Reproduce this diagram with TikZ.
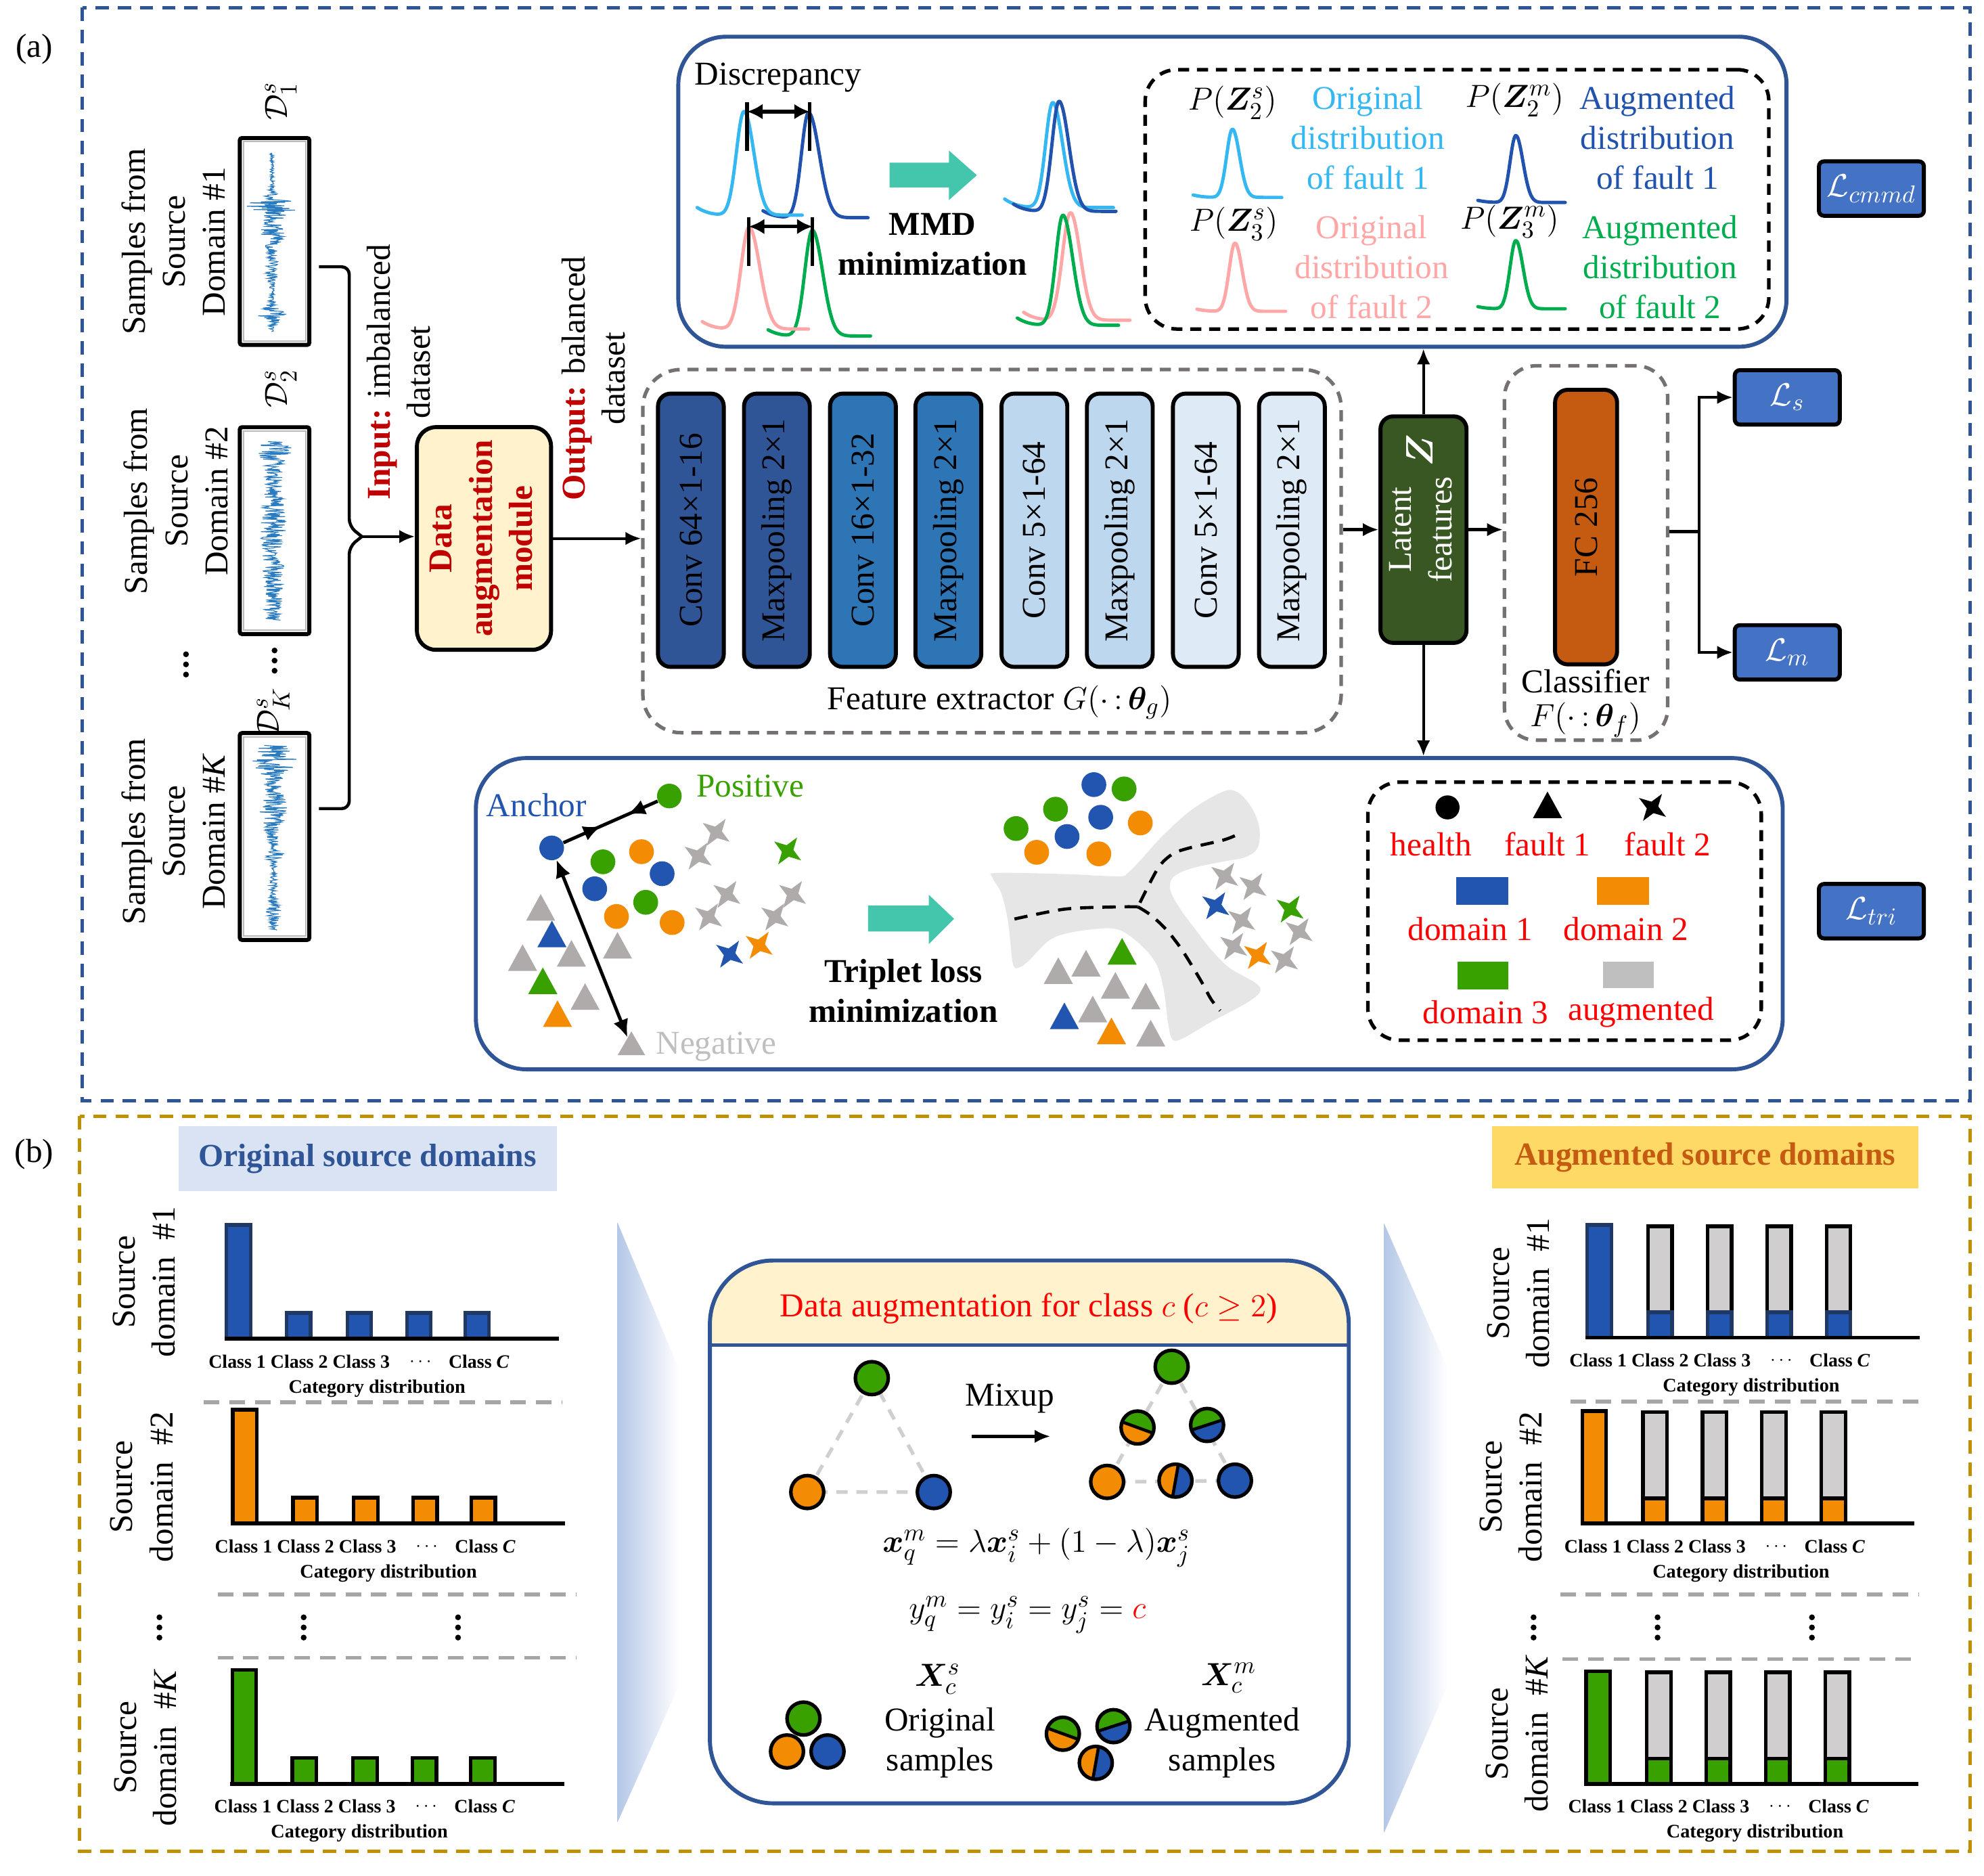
\documentclass[tikz,border=0pt]{standalone}
\usepackage{fontspec}
\setmainfont{Liberation Serif}
\usepackage{amsmath,amssymb,bm,graphicx}
\usetikzlibrary{arrows.meta,shapes.geometric,decorations.markings,calc}

\definecolor{frameblue}{HTML}{2F5597}
\definecolor{framegold}{HTML}{BF9000}
\definecolor{darkred}{HTML}{C00000}
\definecolor{cream}{HTML}{FFF2CC}
\definecolor{lossblue}{HTML}{4472C4}
\definecolor{latgreen}{HTML}{385723}
\definecolor{fcorange}{HTML}{C55A11}
\definecolor{layA}{HTML}{2F5597}
\definecolor{layB}{HTML}{2E75B6}
\definecolor{layC}{HTML}{BDD7EE}
\definecolor{layD}{HTML}{DEEBF7}
\definecolor{cblue}{HTML}{2255AF}
\definecolor{cgreen}{HTML}{38A100}
\definecolor{corange}{HTML}{F38B03}
\definecolor{cgray}{HTML}{AFABAB}
\definecolor{blobgray}{HTML}{E6E6E6}
\definecolor{tealarrow}{HTML}{43C6AC}
\definecolor{lblue}{HTML}{35B8F2}
\definecolor{dblue}{HTML}{2153AE}
\definecolor{pinkc}{HTML}{FFA6A6}
\definecolor{greenc}{HTML}{00AD4E}
\definecolor{sigblue}{HTML}{2A7BC0}
\definecolor{titleblue}{HTML}{DAE3F3}
\definecolor{titlegold}{HTML}{FFD966}
\definecolor{barnavy}{HTML}{203864}
\definecolor{augray}{HTML}{D0CECE}
\definecolor{sepgray}{HTML}{A6A6A6}
\definecolor{wedgeblue}{HTML}{B4C7E7}
\definecolor{fegray}{HTML}{767171}
\definecolor{leggray}{HTML}{BFBFBF}
\definecolor{augtext}{HTML}{C55A11}

% bell curve: color, cx, base, h, sl, sr, xl, xr
\newcommand{\bellc}[8]{\draw[#1,line width=1.5pt,line cap=round,line join=round] plot[smooth,domain=#7:#8,samples=70] ({#2+\x},{#3-#4*bell(\x,ifthenelse(\x<0,#5,#6))-0.1*#4*tl(\x)});}
\newcommand{\dotc}[3]{\fill[#3] (#1,#2) circle (9.8);}
\newcommand{\tric}[3]{\fill[#3] (#1,{#2-10.5}) -- ({#1+11.5},{#2+10.5}) -- ({#1-11.5},{#2+10.5}) -- cycle;}
\newcommand{\starc}[3]{\fill[#3,shift={(#1,#2)}] (35:13) -- (80:4.6) -- (125:13) -- (170:4.6) -- (215:13) -- (260:4.6) -- (305:13) -- (350:4.6) -- cycle;}
\newcommand{\plainc}[3]{\filldraw[fill=#3,draw=black,line width=1.6pt] (#1,#2) circle (13);}
\newcommand{\mixc}[5]{%
 \fill[#4] (#1,#2) ++(#3:13) arc[start angle=#3,end angle={#3+180},radius=13] -- cycle;
 \fill[#5] (#1,#2) ++(#3:13) arc[start angle=#3,end angle={#3-180},radius=13] -- cycle;
 \draw[line width=1.4pt] (#1,#2) ++(#3:13) -- ++({#3+180}:26);
 \draw[line width=1.6pt] (#1,#2) circle (13);}
\newcommand{\vdotsc}[2]{\foreach \dy in {-8,0,8} \fill (#1,{#2+\dy}) circle (2.3);}
\newcommand{\chartlabels}[4]{%
 \node[lbl] (#4n1) at ({#1+10},{#2+18}) {Class 1};
 \node[lbl] (#4n2) at ({#1+59},{#2+18}) {Class 2};
 \node[lbl] (#4n3) at ({#1+108},{#2+18}) {Class 3};
 \node[lbl] (#4n4) at ({#1+156},{#2+18}) {$\cdots$};
 \node[lbl] (#4n5) at ({#1+201},{#2+18}) {Class \textit{C}};
 \node[lbl,font=\fontsize{8.6}{10}\selectfont\bfseries] (#4n6) at (#3,{#2+39}) {Category distribution};}
% x0, yaxis, fill, border, catx, prefix
\newcommand{\origchart}[6]{%
 \foreach \dx/\hh in {0/90,47.5/20.5,95.5/20.5,142.5/20.5,188.5/20.5}
   \filldraw[fill=#3,draw=#4,line width=1.6pt] ({#1+\dx+1.5},#2) rectangle ({#1+\dx+20.5},{#2-\hh});
 \draw[line width=1.8pt] (#1,#2) -- ({#1+264},#2);
 \chartlabels{#1}{#2}{#5}{#6}}
\newcommand{\augchart}[6]{%
 \filldraw[fill=#3,draw=#4,line width=1.6pt] ({#1+1.5},#2) rectangle ({#1+20.5},{#2-89});
 \foreach \dx in {48,95,142,189} {
   \filldraw[fill=augray,draw=black,line width=1.6pt] ({#1+\dx+1.5},{#2-20}) rectangle ({#1+\dx+20.5},{#2-88});
   \filldraw[fill=#3,draw=#4,line width=1.6pt] ({#1+\dx+1.5},#2) rectangle ({#1+\dx+20.5},{#2-20});
 }
 \draw[line width=1.8pt] (#1,#2) -- ({#1+264},#2);
 \chartlabels{#1}{#2}{#5}{#6}}

\begin{document}
\begin{tikzpicture}[x=0.02cm,y=-0.02cm,
  every node/.style={font=\fontsize{15}{18}\selectfont,inner sep=0pt},
  arr/.style={line width=1.3pt,-{Latex[length=7pt,width=6pt]}},
  layerbox/.style={draw=black,line width=1.8pt,rounded corners=0.2cm,minimum width=1.04cm,minimum height=4.32cm},
  sigbox/.style={draw=black,line width=1.8pt,minimum width=1.1cm,minimum height=3.27cm,rounded corners=1pt},
  lossbox/.style={draw=black,line width=1.8pt,fill=lossblue,rounded corners=0.08cm,minimum width=1.66cm,minimum height=0.86cm,text=white},
  lbl/.style={font=\fontsize{8.5}{10}\selectfont\bfseries},
  legdash/.style={draw=black,line width=1.6pt,dash pattern=on 5pt off 3.5pt,rounded corners=0.5cm},
  sepline/.style={draw=sepgray,line width=1.6pt,dash pattern=on 7pt off 4.5pt},
  srctext/.style={rotate=90,align=center},
  declare function={bell(\p,\q)=exp(-min((\p/\q)*(\p/\q),15));tl(\p)=(min(\p,0)/40)*(min(\p,0)/40)*(min(\p,0)/40)*(min(\p,0)/40);}
]
\useasboundingbox (0,0) rectangle (1568,1482);
\fill[white] (0,0) rectangle (1568,1482);

% ---------- frames ----------
\draw[frameblue,line width=1.6pt,dash pattern=on 6pt off 4pt] (65,6) rectangle (1557,870);
\draw[framegold,line width=1.6pt,dash pattern=on 6pt off 4pt] (63,882) rectangle (1557,1463);
\node (la) at (27,39) {(a)};
\node (lb) at (27,912) {(b)};

% ---------- (a) source samples ----------
\node[srctext] (t1) at (137,191) {Samples from\\Source\\Domain \#1};
\node[srctext] (t2) at (139,396) {Samples from\\Source\\Domain \#2};
\node[srctext] (t3) at (137,657) {Samples from\\Source\\Domain \#\textit{K}};
\node[sigbox] (s1) at (217,190.8) {};
\node[sigbox] (s2) at (217,419.3) {};
\node[sigbox] (s3) at (217,661) {};
\foreach \n in {s1,s2,s3} \draw[gray!55,line width=0.6pt] ($(\n.north west)+(4.5,4.5)$) rectangle ($(\n.south east)+(-4.5,-4.5)$);
\pgfmathsetseed{5}
\draw[sigblue,line width=0.35pt] plot[domain=121:262,samples=320] ({215+(1.5+19*bell(\x-163,8)+8*bell(\x-185,12)+4*bell(\x-212,10)+10*bell(\x-248,7))*rand},{\x});
\draw[sigblue,line width=0.35pt] plot[domain=349:490,samples=320] ({216+(7+8*bell(\x-356,7)+3*bell(\x-420,30))*rand},{\x});
\draw[sigblue,line width=0.35pt] plot[domain=589:735,samples=320] ({216+(3+17*bell(\x-600,12)+8*bell(\x-640,18)+6*bell(\x-675,4)+3*bell(\x-720,8))*rand},{\x});
\node[rotate=90] (d1) at (222,80) {$\mathcal{D}_1^s$};
\node[rotate=90] (d2) at (222,307) {$\mathcal{D}_2^s$};
\node[rotate=90] (dk) at (216,562) {$\mathcal{D}_K^s$};
\vdotsc{147}{525}
\vdotsc{217}{522}

\coordinate (brc) at (286,424);
\draw[line width=1.4pt,rounded corners=0.12cm] ($(s1.east)+(6,20)$) -- (276,210.8) -- (276,416) -- (brc);
\draw[line width=1.4pt,rounded corners=0.12cm] ($(s3.east)+(6,-22)$) -- (276,639) -- (276,432) -- (brc);

\node[rotate=90,align=center] (inp) at (315,294) {\textcolor{darkred}{\textbf{Input:}} imbalanced\\dataset};
\node[draw=black,line width=1.8pt,fill=cream,rounded corners=0.3cm,minimum width=2.12cm,minimum height=3.52cm,text=darkred,font=\fontsize{15}{18}\selectfont\bfseries] (aug) at (382.5,425.5) {\rotatebox{90}{\begin{tabular}{@{}c@{}}Data\\augmentation\\module\end{tabular}}};
\node[rotate=90,align=center] (outp) at (469,299) {\textcolor{darkred}{\textbf{Output:}} balanced\\dataset};
\draw[arr] (brc) -- (brc -| aug.west);

% ---------- feature extractor ----------
\node[draw=fegray,line width=1.6pt,dash pattern=on 5pt off 3.5pt,rounded corners=0.6cm,minimum width=11.04cm,minimum height=5.74cm] (fe) at (784,435.5) {};
\draw[arr] (aug.east) -- (aug.east -| fe.west);
\node[layerbox,fill=layA] (l1) at (546,419) {\rotatebox{90}{Conv 64×1-16}};
\node[layerbox,fill=layA] (l2) at (614,419) {\rotatebox{90}{Maxpooling 2×1}};
\node[layerbox,fill=layB] (l3) at (682,419) {\rotatebox{90}{Conv 16×1-32}};
\node[layerbox,fill=layB] (l4) at (749.5,419) {\rotatebox{90}{Maxpooling 2×1}};
\node[layerbox,fill=layC] (l5) at (817.5,419) {\rotatebox{90}{Conv 5×1-64}};
\node[layerbox,fill=layC] (l6) at (885,419) {\rotatebox{90}{Maxpooling 2×1}};
\node[layerbox,fill=layD] (l7) at (953,419) {\rotatebox{90}{Conv 5×1-64}};
\node[layerbox,fill=layD] (l8) at (1021,419) {\rotatebox{90}{Maxpooling 2×1}};
\node (fel) at (790,555) {Feature extractor $G(\cdot\,{:}\,\bm{\theta}_g)$};

% ---------- latent, classifier ----------
\node[draw=black,line width=1.8pt,fill=latgreen,rounded corners=0.2cm,minimum width=1.36cm,minimum height=3.58cm,text=white] (lat) at (1125,418.5) {\rotatebox{90}{\begin{tabular}{@{}c@{}}Latent\\features\end{tabular}}};
\node[rotate=90,text=white,font=\fontsize{17}{18}\selectfont] (zz) at (1122,356) {$\bm{Z}$};
\node[draw=fegray,line width=1.6pt,dash pattern=on 5pt off 3.5pt,rounded corners=0.5cm,minimum width=2.58cm,minimum height=5.92cm] (cls) at (1253.5,437) {};
\node[draw=black,line width=1.8pt,fill=fcorange,rounded corners=0.2cm,minimum width=0.98cm,minimum height=4.34cm] (fc) at (1253.5,416.5) {\rotatebox{90}{FC 256}};
\node (clsl) at (1253,538) {Classifier};
\node (clsf) at (1253,569) {$F(\cdot\,{:}\,\bm{\theta}_f)$};
\draw[arr] (fe.east |- lat.west) -- (lat.west);
\draw[arr] (lat.east) -- (lat.east -| cls.west);

\node[lossbox] (ls) at (1412.5,314) {$\mathcal{L}_s$};
\node[lossbox] (lm) at (1412.5,515.5) {$\mathcal{L}_m$};
\node[lossbox] (lcm) at (1479,149) {$\mathcal{L}_{cmmd}$};
\node[lossbox] (ltr) at (1479,720) {$\mathcal{L}_{tri}$};
\coordinate (br) at (1343,420);
\draw[line width=1.4pt] (br -| cls.east) -- (br);
\draw[arr] (br) |- (ls.west);
\draw[arr] (br) |- (lm.west);

% ---------- MMD panel ----------
\node[draw=frameblue,line width=1.8pt,rounded corners=0.75cm,minimum width=17.52cm,minimum height=4.9cm] (mmd) at (974,151.5) {};
\draw[arr] (lat.north) -- (lat.north |- mmd.south);
\node (disc) at (615,61) {Discrepancy};
\bellc{dblue}{639}{172}{83}{8}{12}{-36}{47}
\bellc{lblue}{588}{170}{82}{8.5}{11}{-37}{46}
\bellc{greenc}{642}{265.5}{83.5}{8.5}{11.5}{-35}{46}
\bellc{pinkc}{592}{260}{80.5}{9}{12}{-37}{47}
\draw[line width=1.6pt] (590.4,81) -- (590.4,119.4);
\draw[line width=1.6pt] (640,81) -- (640,119.4);
\draw[line width=1.6pt,{Latex[length=7pt,width=7pt]}-{Latex[length=7pt,width=7pt]}] (590.4,88.2) -- (640,88.2);
\draw[line width=1.6pt] (591.8,171.5) -- (591.8,210);
\draw[line width=1.6pt] (642.2,171.5) -- (642.2,210);
\draw[line width=1.6pt,{Latex[length=7pt,width=7pt]}-{Latex[length=7pt,width=7pt]}] (591.8,179) -- (642.2,179);
\fill[tealarrow] (703,128.5) -- (750,128.5) -- (750,119) -- (772,138.5) -- (750,158) -- (750,148) -- (703,148) -- cycle;
\node[align=center,font=\fontsize{15}{18}\selectfont\bfseries] (mmdt) at (737,193) {MMD\\minimization};
\bellc{lblue}{832}{164}{83}{8}{11}{-38}{48}
\bellc{dblue}{837}{167}{87}{8}{11}{-36}{45}
\bellc{pinkc}{846}{253}{85}{9}{11}{-37}{47}
\bellc{greenc}{840}{257}{87}{8}{11}{-36}{44}
\node[legdash,minimum width=9.86cm,minimum height=4.1cm] (leg1) at (1151.5,157.5) {};
\bellc{lblue}{974}{156}{54}{6.5}{8}{-31}{39}
\bellc{dblue}{1198}{160}{53}{6.5}{8}{-30}{39}
\bellc{pinkc}{976}{246}{54}{6.5}{8}{-30}{40}
\bellc{greenc}{1198}{244}{54}{6.5}{8}{-30}{39}
\node (pz2s) at (974,81) {$P(\bm{Z}_2^s)$};
\node[align=center,text=lblue] (of1) at (1081,109) {Original\\distribution\\of fault 1};
\node (pz2m) at (1197,79) {$P(\bm{Z}_2^m)$};
\node[align=center,text=dblue] (af1) at (1310,109) {Augmented\\distribution\\of fault 1};
\node (pz3s) at (975,177) {$P(\bm{Z}_3^s)$};
\node[align=center,text=pinkc] (of2) at (1084,211) {Original\\distribution\\of fault 2};
\node (pz3m) at (1193,175) {$P(\bm{Z}_3^m)$};
\node[align=center,text=greenc] (af2) at (1312,211) {Augmented\\distribution\\of fault 2};

% ---------- triplet panel ----------
\node[draw=frameblue,line width=1.8pt,rounded corners=0.8cm,minimum width=20.66cm,minimum height=4.92cm] (trip) at (892.5,722) {};
\draw[arr] (lat.south) -- (lat.south |- trip.north);
\node[circle,fill=cblue,minimum size=0.39cm] (anc) at (436,670) {};
\node[circle,fill=cgreen,minimum size=0.39cm] (pos) at (529,629) {};
\node[regular polygon,regular polygon sides=3,fill=cgray,minimum size=0.5cm] (neg) at (499,827.5) {};
\node[text=cblue] (anct) at (424,636) {Anchor};
\node[text=cgreen] (post) at (593,621) {Positive};
\node[text=leggray] (negt) at (566,827) {Negative};
\draw[line width=1.5pt,postaction={decorate},decoration={markings,mark=at position 0.4 with {\arrow{Latex[length=8pt,width=7pt]}},mark=at position 0.68 with {\arrowreversed{Latex[length=8pt,width=7pt]}}}] (anc) -- (pos);
\draw[line width=1.5pt,{Latex[length=8pt,width=7pt]}-{Latex[length=8pt,width=7pt]}] (anc) -- (neg);
\dotc{476.5}{681}{cgreen} \dotc{507}{673}{corange} \dotc{523.3}{690.4}{cblue} \dotc{470}{702.3}{cblue}
\dotc{510.3}{713}{cgreen} \dotc{487.2}{724.2}{corange} \dotc{531.2}{729}{corange}
\tric{427.3}{717}{cgray} \tric{436.2}{738}{cblue} \tric{413}{756.7}{cgray} \tric{451.6}{753.3}{cgray}
\tric{488}{747}{cgray} \tric{429}{775}{cgreen} \tric{462.4}{787.5}{cgray} \tric{440.6}{801}{corange}
\starc{566}{657.7}{cgray} \starc{551.7}{676.5}{cgray} \starc{622.5}{672.4}{cgreen} \starc{574.5}{706.8}{cgray}
\starc{626.4}{706.8}{cgray} \starc{560}{724.6}{cgray} \starc{612.3}{724.6}{cgray} \starc{576.6}{754}{cblue} \starc{600}{747}{corange}
\fill[tealarrow] (686,715.5) -- (734,715.5) -- (734,707) -- (754,726) -- (734,746) -- (734,736) -- (686,736) -- cycle;
\node[align=center,font=\fontsize{15}{18}\selectfont\bfseries] (tlm) at (714,783) {Triplet loss\\minimization};
\fill[blobgray] plot[smooth cycle,tension=0.55] coordinates {(972.4,624.2) (959,629.2) (939.4,641.7) (918,661.3) (901.9,679.1) (891.3,689.8) (884.1,692.5) (841.4,690.7) (787.9,689.8) (784.3,693.4) (791.4,705.9) (796.8,729.1) (800.4,761.1) (804.8,764.7) (812.8,759.4) (828.9,743.3) (844.9,737.1) (873.4,733.5) (887.7,736.2) (903.7,748.7) (914.4,762.9) (919.8,782.5) (923.3,809.3) (926.9,821.8) (935.8,820) (957.2,807.5) (984,793.2) (995.5,784.3) (992.9,777.2) (971.5,764.7) (957.2,750.4) (944.7,734.4) (934,720.1) (925.1,704.1) (926.9,693.4) (941.2,686.3) (966.1,680.9) (984,677.4) (993.8,670.2) (995.5,656) (991.1,641.7) (982.2,629.2)};
\draw[line width=1.4pt,dash pattern=on 6pt off 4pt] plot[smooth] coordinates {(975.9,660.4) (966.1,664) (939.4,670.2) (926.9,674.7) (916.2,684.5) (905.5,704.1) (899.3,716.6)};
\draw[line width=1.4pt,dash pattern=on 6pt off 4pt] plot[smooth] coordinates {(899.3,716.6) (884.1,716.6) (841.4,718.4) (796.8,727.3)};
\draw[line width=1.4pt,dash pattern=on 6pt off 4pt] plot[smooth] coordinates {(899.3,716.6) (909.1,722.8) (921.6,734.4) (934,750.4) (948.3,773.6) (957.2,789.7) (964.3,798.6)};
\dotc{864.5}{620}{cblue} \dotc{888.4}{623.4}{cgreen} \dotc{834.2}{639.4}{cgreen} \dotc{869.9}{645.8}{cblue}
\dotc{901.2}{650.3}{corange} \dotc{803}{654.7}{cgreen} \dotc{843.3}{661}{cblue} \dotc{819.3}{673.5}{corange} \dotc{868.4}{674.7}{corange}
\tric{836.4}{767}{cgray} \tric{858.3}{761.1}{cgray} \tric{886.8}{751.7}{cgreen} \tric{881.5}{778.6}{cgray}
\tric{905.5}{787}{cgray} \tric{863.6}{797.3}{cgray} \tric{841.2}{802.7}{cblue} \tric{878.4}{814.6}{corange} \tric{909.4}{816.4}{cgray}
\starc{967.9}{692.5}{cgray} \starc{990.2}{700.5}{cgray} \starc{960.8}{715.7}{cblue} \starc{981.3}{727.3}{cgray}
\starc{1019.6}{718.4}{cgreen} \starc{1026.7}{736.2}{cgray} \starc{975}{747.8}{cgray} \starc{993.8}{755}{corange} \starc{1015.1}{758.5}{cgray}
\node[legdash,minimum width=6.22cm,minimum height=4.08cm] (leg2) at (1236.5,720) {};
\fill[black] (1144,638) circle (9.5);
\tric{1223}{636}{black}
\starc{1306}{638}{black}
\node[text=red] (hl) at (1131,667) {health};
\node[text=red] (f1) at (1223,667) {fault 1};
\node[text=red] (f2) at (1318,667) {fault 2};
\fill[cblue] (1151,693) rectangle (1192,715);
\fill[corange] (1262,693) rectangle (1303,715);
\fill[cgreen] (1152,760) rectangle (1192,782);
\fill[leggray] (1267,760) rectangle (1307,781);
\node[text=red] (dm1) at (1162,734) {domain 1};
\node[text=red] (dm2) at (1285,734) {domain 2};
\node[text=red] (dm3) at (1174,800) {domain 3};
\node[text=red] (augl) at (1297,800) {augmented};

% ---------- (b) ----------
\node[fill=titleblue,minimum width=5.98cm,minimum height=1.02cm,text=frameblue,font=\fontsize{14.5}{16}\selectfont\bfseries] (ot) at (290.5,915.5) {Original source domains};
\node[fill=titlegold,minimum width=6.74cm,minimum height=0.98cm,text=augtext,font=\fontsize{14.5}{16}\selectfont\bfseries] (at) at (1347.5,914.5) {Augmented source domains};

\origchart{177.5}{1058}{cblue}{barnavy}{298}{oa}
\origchart{182.5}{1204}{corange}{black}{307}{ob}
\origchart{182}{1409.5}{cgreen}{black}{284}{oc}
\node[srctext] (os1) at (114,1013) {Source\\domain~~\#1};
\node[srctext] (os2) at (112,1175) {Source\\domain~~\#2};
\node[srctext] (os3) at (115,1381) {Source\\domain~~\#\textit{K}};
\draw[sepline] (161,1108) -- (444,1108);
\draw[sepline] (172,1260) -- (455,1260);
\draw[sepline] (172,1310) -- (455,1310);
\vdotsc{126}{1286} \vdotsc{240}{1286} \vdotsc{362}{1286}

\augchart{1253}{1057}{cblue}{barnavy}{1384}{aa}
\augchart{1249}{1204}{corange}{black}{1376}{ab}
\augchart{1252}{1409.5}{cgreen}{black}{1387}{ac}
\node[srctext] (as1) at (1200,1022) {Source\\domain~~\#1};
\node[srctext] (as2) at (1194,1175) {Source\\domain~~\#2};
\node[srctext] (as3) at (1199,1370) {Source\\domain~~\#\textit{K}};
\draw[sepline] (1241,1107.5) -- (1523,1107.5);
\draw[sepline] (1233,1260) -- (1516,1260);
\draw[sepline] (1235,1311) -- (1517,1311);
\vdotsc{1212}{1286} \vdotsc{1310}{1286} \vdotsc{1432}{1286}

\shade[left color=wedgeblue,right color=white] (488,966) -- (537,1083) -- (537,1331) -- (488,1440) -- cycle;
\shade[left color=wedgeblue,right color=white] (1094,967) -- (1144,1081) -- (1144,1332) -- (1094,1448) -- cycle;

% center panel
\begin{scope}
\clip[rounded corners=1cm] (561,996) rectangle (1066,1425);
\fill[cream] (561,996) rectangle (1066,1063);
\end{scope}
\draw[frameblue,line width=1.6pt] (561,1063) -- (1066,1063);
\node[draw=frameblue,line width=1.8pt,rounded corners=1cm,minimum width=10.1cm,minimum height=8.58cm] (dap) at (813.5,1210.5) {};
\node[text=red] (dat) at (813,1034) {Data augmentation for class $c$ ($c \geq 2$)};
\draw[augray,line width=1.6pt,dash pattern=on 5pt off 4pt] (689,1089) -- (638,1179) -- (738,1179) -- cycle;
\draw[augray,line width=1.6pt,dash pattern=on 5pt off 4pt] (926,1080) -- (875,1171) -- (976,1170) -- cycle;
\plainc{689}{1089}{cgreen} \plainc{638}{1179}{corange} \plainc{738}{1179}{cblue}
\plainc{926}{1080}{cgreen} \plainc{875}{1171}{corange} \plainc{976}{1170}{cblue}
\mixc{899}{1128}{20}{corange}{cgreen}
\mixc{954}{1126}{-18}{cblue}{cgreen}
\mixc{929}{1170}{-80}{cblue}{corange}
\node (mix) at (798,1105) {Mixup};
\coordinate (mxa) at (768,1135);
\coordinate (mxb) at (830,1135);
\draw[arr] (mxa) -- (mxb);
\node (eq1) at (819,1223) {$\bm{x}_q^m=\lambda\bm{x}_i^s+(1-\lambda)\bm{x}_j^s$};
\node (eq2) at (812,1276) {$y_q^m=y_i^s=y_j^s=\textcolor{red}{c}$};
\plainc{635}{1358}{cgreen} \plainc{622}{1384}{corange} \plainc{654}{1384}{cblue}
\mixc{840}{1370}{20}{corange}{cgreen}
\mixc{880}{1364}{-18}{cblue}{cgreen}
\mixc{866}{1393}{-80}{cblue}{corange}
\node (xcs) at (741,1327) {$\bm{X}_c^s$};
\node[align=center] (ors) at (743,1377) {Original\\samples};
\node (xcm) at (971,1326) {$\bm{X}_c^m$};
\node[align=center] (ags) at (966,1377) {Augmented\\samples};
\end{tikzpicture}
\end{document}
